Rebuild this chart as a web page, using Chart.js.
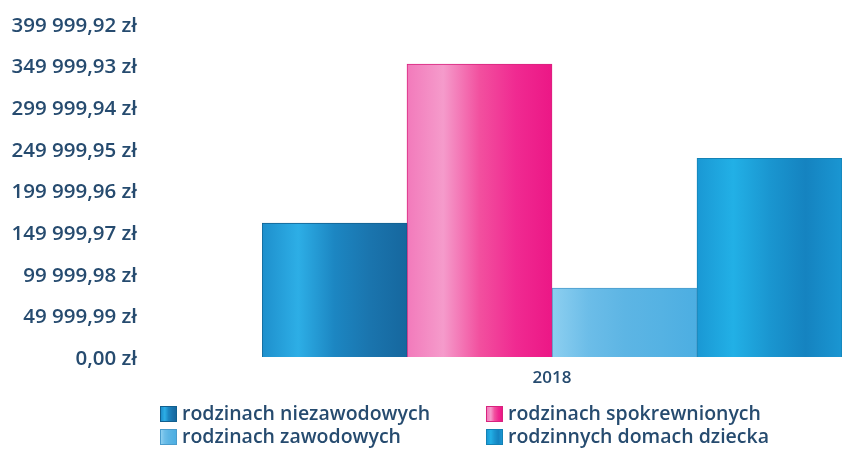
<!DOCTYPE html>
<html>
<head>
<meta charset="utf-8">
<script src="https://cdn.jsdelivr.net/npm/chart.js@4"></script>
<style>
  html, body { margin: 0; padding: 0; background: #fff; }
  #wrap { position: relative; width: 842px; height: 454px; }
  #legend {
    position: absolute; left: 160px; top: 401px;
    display: grid; grid-template-columns: 326px 340px; row-gap: 0px;
    font-family: "Open Sans", sans-serif; font-weight: 600; font-size: 19.5px;
    color: #264b6f; line-height: 23px;
  }
  #legend span.box {
    display: inline-block; width: 17px; height: 16px; margin-right: 5px;
    vertical-align: -2px;
  }
</style>
</head>
<body>
<div id="wrap">
  <canvas id="chart" width="842" height="454"></canvas>
  <div id="legend"></div>
</div>
<script>
const years = ['2018'];
const seriesNames = [
  'rodzinach niezawodowych',
  'rodzinach spokrewnionych',
  'rodzinach zawodowych',
  'rodzinnych domach dziecka'
];
const seriesValues = [161000, 352000, 82700, 238600];
const seriesColors = ['#1b7db6', '#ee3f96', '#63b6e4', '#1ca0d9'];
const seriesBorders = ['#12608f', '#d8237e', '#4a9ccc', '#1482b5'];
// light/dark streaks seen inside each bar (left to right)
const seriesShades = [
  ['#1e8fcc', '#2daee6', '#1c86c2', '#1a74ad', '#16679e'],
  ['#f27abb', '#f59bcb', '#f2509f', '#f02a91', '#ec1786'],
  ['#8dcff0', '#6cbde8', '#5db5e4', '#55b2e3', '#4caee2'],
  ['#1a98d4', '#22b0e6', '#1a96d0', '#1583c0', '#1a96d2']
];
const yTicks = [0, 49999.99, 99999.98, 149999.97, 199999.96, 249999.95, 299999.94, 349999.93, 399999.92];

function formatZl(v) {
  const parts = v.toFixed(2).split('.');
  const intPart = parts[0].replace(/\B(?=(\d{3})+(?!\d))/g, ' ');
  return intPart + ',' + parts[1] + ' zł';
}

function barFill(context) {
  const i = context.datasetIndex;
  const area = context.chart.chartArea;
  if (!area) return seriesColors[i];
  const w = (area.right - area.left) / seriesNames.length;
  const x0 = area.left + i * w;
  const g = context.chart.ctx.createLinearGradient(x0, 0, x0 + w, 0);
  const shades = seriesShades[i];
  shades.forEach((c, k) => g.addColorStop(k / (shades.length - 1), c));
  return g;
}

const datasets = seriesNames.map((name, i) => ({
  label: name,
  data: [seriesValues[i]],
  backgroundColor: barFill,
  borderColor: seriesBorders[i],
  borderWidth: 1,
  categoryPercentage: 1.0,
  barPercentage: 1.0
}));

const ctx = document.getElementById('chart').getContext('2d');
const chart = new Chart(ctx, {
  type: 'bar',
  data: { labels: years, datasets: datasets },
  options: {
    responsive: false,
    animation: false,
    layout: { padding: { top: 24, right: 0, left: 0, bottom: 0 } },
    plugins: { legend: { display: false }, tooltip: { enabled: false } },
    scales: {
      x: {
        grid: { display: false },
        border: { display: false },
        ticks: {
          color: '#264b6f',
          padding: 3,
          font: { family: 'Open Sans', size: 17, weight: '600' }
        },
        afterFit: (scale) => { scale.height = 97; }
      },
      y: {
        min: 0,
        max: yTicks[yTicks.length - 1],
        grid: { display: false },
        border: { display: false },
        afterBuildTicks: (scale) => { scale.ticks = yTicks.map(v => ({ value: v })); },
        afterFit: (scale) => {
          scale.width = 262;
          scale.paddingTop = 0;
          scale.paddingBottom = 0;
        },
        ticks: {
          color: '#264b6f',
          padding: 117,
          labelOffset: 2,
          font: { family: 'Open Sans', size: 20.5, weight: '600' },
          callback: (v) => formatZl(v)
        }
      }
    }
  }
});

// legend in two columns, same order as the reference
const legendOrder = [0, 1, 2, 3];
const legendEl = document.getElementById('legend');
legendOrder.forEach((i) => {
  const item = document.createElement('div');
  const box = document.createElement('span');
  box.className = 'box';
  box.style.background = 'linear-gradient(to right, ' + seriesShades[i].join(', ') + ')';
  box.style.border = '1px solid ' + seriesBorders[i];
  box.style.boxSizing = 'border-box';
  item.appendChild(box);
  item.appendChild(document.createTextNode(seriesNames[i]));
  legendEl.appendChild(item);
});
</script>
</body>
</html>
